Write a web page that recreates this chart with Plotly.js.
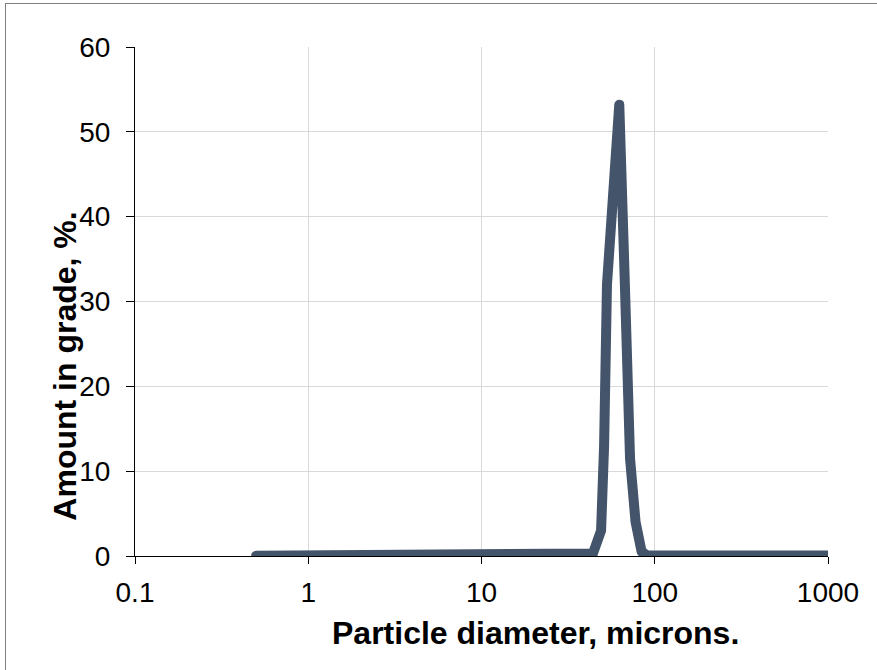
<!DOCTYPE html>
<html>
<head>
<meta charset="utf-8">
<script src="https://cdn.plot.ly/plotly-3.0.1.min.js"></script>
<style>
  html, body { margin: 0; padding: 0; background: #fff; }
  #wrap { position: relative; width: 877px; height: 670px; }
  #chart { position: absolute; left: 0; top: 0; width: 877px; height: 670px; }
  #frame { position: absolute; left: 5px; top: 3px; width: 900px; height: 700px;
           border-left: 1px solid #7f7f7f; border-top: 1px solid #7f7f7f; pointer-events: none; }
  g.plot { clip-path: none !important; }
  path.js-line { stroke-linejoin: round !important; stroke-linecap: round !important; }
</style>
</head>
<body>
<div id="wrap">
  <div id="chart"></div>
  <div id="frame"></div>
</div>
<script>
// Particle diameter (microns)
var diameter = [0.5, 1, 2, 5, 10, 20, 30, 38, 44, 49, 51, 53, 57.5, 62.4, 67, 72, 77.5, 84, 90, 100, 200, 500, 1000];
// Amount in grade (%)
var amount   = [0.02, 0.02, 0.03, 0.08, 0.12, 0.15, 0.12, 0.05, 0.3, 3, 13, 32, 44, 53.2, 33, 11.5, 4, 0.5, 0.1, 0.05, 0.05, 0.05, 0.05];

var xTickVals = [0.1, 1, 10, 100, 1000];
var xTickText = ['0.1', '1', '10', '100', '1000'];
var yTickVals = [0, 10, 20, 30, 40, 50, 60];

var xTitle = 'Particle diameter, microns.';
var yTitle = 'Amount in grade, %.';

var FONT = '"Liberation Sans", Arial, sans-serif';

var trace = {
  x: diameter,
  y: amount,
  type: 'scatter',
  mode: 'lines',
  line: { color: '#44546A', width: 10 },
  hoverinfo: 'skip'
};

var layout = {
  width: 877,
  height: 670,
  margin: { l: 135, r: 49, t: 47, b: 114 },
  paper_bgcolor: '#ffffff',
  plot_bgcolor: '#ffffff',
  showlegend: false,
  font: { family: FONT, color: '#000000', size: 28 },
  xaxis: {
    type: 'log',
    range: [-1, 3],
    tickvals: xTickVals,
    ticktext: xTickText,
    showgrid: true,
    gridcolor: '#d9d9d9',
    gridwidth: 1,
    zeroline: false,
    showline: true,
    linecolor: '#000000',
    linewidth: 1,
    ticks: 'outside',
    ticklen: 7,
    tickcolor: '#000000',
    ticklabelstandoff: 4,
    tickfont: { family: FONT, size: 28, color: '#000000' },
    layer: 'below traces',
    fixedrange: true
  },
  yaxis: {
    range: [0, 60],
    tickvals: yTickVals,
    showgrid: true,
    gridcolor: '#d9d9d9',
    gridwidth: 1,
    zeroline: false,
    showline: true,
    linecolor: '#000000',
    linewidth: 1,
    ticks: 'outside',
    ticklen: 8,
    tickcolor: '#000000',
    ticklabelstandoff: 10,
    tickfont: { family: FONT, size: 28, color: '#000000' },
    layer: 'below traces',
    fixedrange: true
  },
  annotations: [
    {
      text: '<b>' + xTitle + '</b>',
      xref: 'paper', yref: 'paper',
      x: 0.578, y: -0.151,
      xanchor: 'center', yanchor: 'middle',
      showarrow: false,
      font: { family: FONT, size: 32, color: '#000000' }
    },
    {
      text: '<b>' + yTitle + '</b>',
      xref: 'paper', yref: 'paper',
      x: -0.101, y: 0.372,
      xanchor: 'center', yanchor: 'middle',
      textangle: -90,
      showarrow: false,
      font: { family: FONT, size: 32, color: '#000000' }
    }
  ]
};

Plotly.newPlot('chart', [trace], layout, { staticPlot: true, displayModeBar: false });
</script>
</body>
</html>
